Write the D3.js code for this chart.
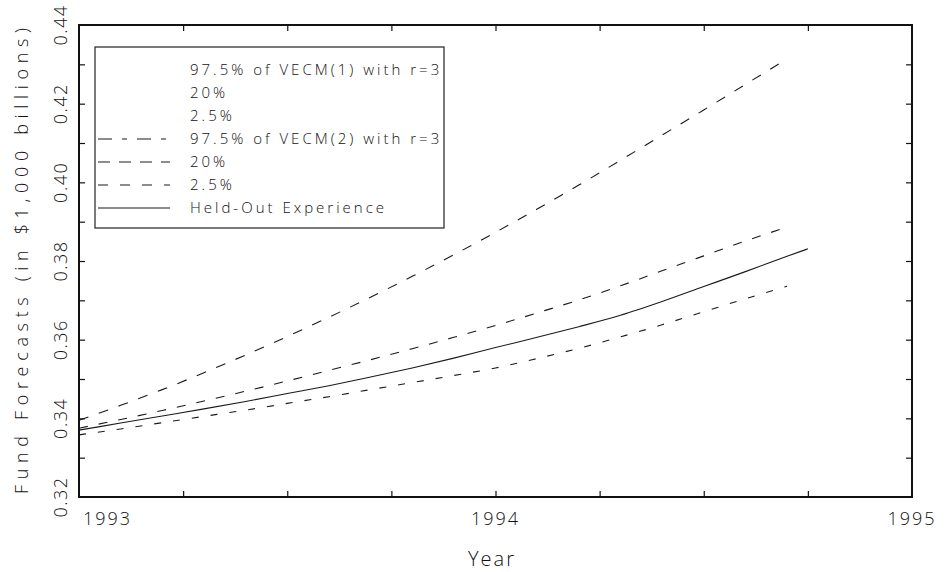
<!DOCTYPE html>
<html>
<head>
<meta charset="utf-8">
<script src="https://cdn.jsdelivr.net/npm/d3@7"></script>
<style>
  body { margin: 0; background: #fff; }
  text { font-family: "Open Sans", "DejaVu Sans", sans-serif; font-weight: 300; fill: #111; }
</style>
</head>
<body>
<svg id="chart" width="948" height="572"></svg>
<script>
// years for the forecast bands and for the held-out series
var forecastYears = [1993.0, 1993.1, 1993.2, 1993.3, 1993.4, 1993.5, 1993.6, 1993.7, 1993.8,
  1993.9, 1994.0, 1994.1, 1994.2, 1994.3, 1994.4, 1994.5, 1994.6, 1994.7];
var heldOutYears = [1993.0, 1993.1, 1993.2, 1993.3, 1993.4, 1993.5, 1993.6, 1993.7, 1993.8,
  1993.9, 1994.0, 1994.1, 1994.2, 1994.3, 1994.4, 1994.5, 1994.6, 1994.7, 1994.75];

// VECM(2) with r=3 quantiles
var vecm2Upper = [0.3395, 0.3433, 0.3473, 0.3516, 0.3561, 0.3608, 0.3657, 0.3708, 0.3761,
  0.3816, 0.3873, 0.3932, 0.3993, 0.4056, 0.4120, 0.4184, 0.4249, 0.4314];
var vecm2Mid = [0.3375, 0.3397, 0.3420, 0.3444, 0.3469, 0.3495, 0.3522, 0.3549, 0.3577,
  0.3606, 0.3636, 0.3668, 0.3701, 0.3737, 0.3775, 0.3813, 0.3851, 0.3886];
var vecm2Lower = [0.3358, 0.3373, 0.3389, 0.3405, 0.3421, 0.3438, 0.3455, 0.3473, 0.3491,
  0.3509, 0.3528, 0.3552, 0.3578, 0.3607, 0.3638, 0.3671, 0.3704, 0.3736];
var heldOut = [0.3370, 0.3388, 0.3406, 0.3424, 0.3443, 0.3463, 0.3483, 0.3505, 0.3528,
  0.3553, 0.3580, 0.3606, 0.3633, 0.3662, 0.3697, 0.3735, 0.3773, 0.3812, 0.3831];

var xTickYears = [1993, 1994, 1995];
var yTickLabels = [0.32, 0.34, 0.36, 0.38, 0.40, 0.42, 0.44];
var legendLabels = ['97.5% of VECM(1) with r=3', '20%', '2.5%',
  '97.5% of VECM(2) with r=3', '20%', '2.5%', 'Held-Out Experience'];

var svg = d3.select('#chart');
var plot = { left: 79, right: 912, top: 25, bottom: 497 };

var x = d3.scaleLinear().domain([1993, 1995]).range([plot.left, plot.right]);
var y = d3.scaleLinear().domain([0.32, 0.44]).range([plot.bottom, plot.top]);

// minor ticks: quarters on x, 0.01 on y, drawn inward on all four sides
var quarterTicks = d3.range(1993.25, 1995, 0.25);
var yMinor = d3.range(0.33, 0.4399, 0.01);

function styleAxis(g) {
  g.select('.domain').remove();
  g.selectAll('line').attr('stroke', '#111').attr('stroke-width', 1.2);
}
svg.append('g').attr('transform', 'translate(0,' + plot.bottom + ')')
  .call(d3.axisBottom(x).tickValues(quarterTicks).tickSize(-6).tickFormat(''))
  .call(styleAxis);
svg.append('g').attr('transform', 'translate(0,' + plot.top + ')')
  .call(d3.axisTop(x).tickValues(quarterTicks).tickSize(-6).tickFormat(''))
  .call(styleAxis);
svg.append('g').attr('transform', 'translate(' + plot.left + ',0)')
  .call(d3.axisLeft(y).tickValues(yMinor).tickSize(-6).tickFormat(''))
  .call(styleAxis);
svg.append('g').attr('transform', 'translate(' + plot.right + ',0)')
  .call(d3.axisRight(y).tickValues(yMinor).tickSize(-6).tickFormat(''))
  .call(styleAxis);

// frame
svg.append('rect')
  .attr('x', plot.left).attr('y', plot.top)
  .attr('width', plot.right - plot.left).attr('height', plot.bottom - plot.top)
  .attr('fill', 'none').attr('stroke', '#111').attr('stroke-width', 2);

// tick labels
svg.selectAll('.xlab').data(xTickYears).enter().append('text')
  .attr('class', 'xlab')
  .attr('x', function (d, i) { return i === 0 ? x(d) + 4 : x(d); })
  .attr('y', 525)
  .attr('text-anchor', function (d, i) { return i === 0 ? 'start' : 'middle'; })
  .style('font-size', '18px')
  .style('letter-spacing', '2px')
  .text(function (d) { return d; });

svg.selectAll('.ylab').data(yTickLabels).enter().append('text')
  .attr('class', 'ylab')
  .attr('transform', function (d) { return 'translate(67,' + y(d) + ') rotate(-90)'; })
  .attr('text-anchor', 'middle')
  .style('font-size', '18px')
  .style('letter-spacing', '1.5px')
  .text(function (d) { return d3.format('.2f')(d); });

// axis titles
svg.append('text')
  .attr('x', 492).attr('y', 566)
  .attr('text-anchor', 'middle')
  .style('font-size', '20px')
  .style('letter-spacing', '2px')
  .text('Year');

svg.append('text')
  .attr('transform', 'translate(28,' + ((plot.top + plot.bottom) / 2) + ') rotate(-90)')
  .attr('text-anchor', 'middle')
  .attr('textLength', 466)
  .attr('lengthAdjust', 'spacing')
  .style('font-size', '18px')
  .text('Fund Forecasts (in $1,000 billions)');

// series
var series = [
  { years: forecastYears, values: vecm2Upper, dash: '10,11' },
  { years: forecastYears, values: vecm2Mid, dash: '9,11' },
  { years: forecastYears, values: vecm2Lower, dash: '7,12' },
  { years: heldOutYears, values: heldOut, dash: null }
];

series.forEach(function (s) {
  var line = d3.line()
    .x(function (d, i) { return x(s.years[i]); })
    .y(function (d) { return y(d); })
    .curve(d3.curveMonotoneX);
  svg.append('path')
    .datum(s.values)
    .attr('d', line)
    .attr('fill', 'none')
    .attr('stroke', '#1a1a1a')
    .attr('stroke-width', 1.1)
    .attr('stroke-dasharray', s.dash);
});

// legend
var legend = svg.append('g');
legend.append('rect')
  .attr('x', 95).attr('y', 47).attr('width', 349).attr('height', 181)
  .attr('fill', '#fff').attr('stroke', '#222').attr('stroke-width', 1.2);

// line samples: VECM(1) rows are blank in the picture
var legendDash = [null, null, null, '14,10,5,10', '12,9', '10,12', ''];
legend.selectAll('.lrow').data(legendLabels).enter().append('text')
  .attr('class', 'lrow')
  .attr('x', 190)
  .attr('y', function (d, i) { return 75 + i * 23; })
  .style('font-size', '15px')
  .style('letter-spacing', '3px')
  .text(function (d) { return d; });

legendDash.forEach(function (dash, i) {
  if (dash === null) return;
  legend.append('line')
    .attr('x1', 98).attr('x2', 170)
    .attr('y1', 70 + i * 23).attr('y2', 70 + i * 23)
    .attr('stroke', '#1a1a1a').attr('stroke-width', 1.2)
    .attr('stroke-dasharray', dash || null);
});
</script>
</body>
</html>
